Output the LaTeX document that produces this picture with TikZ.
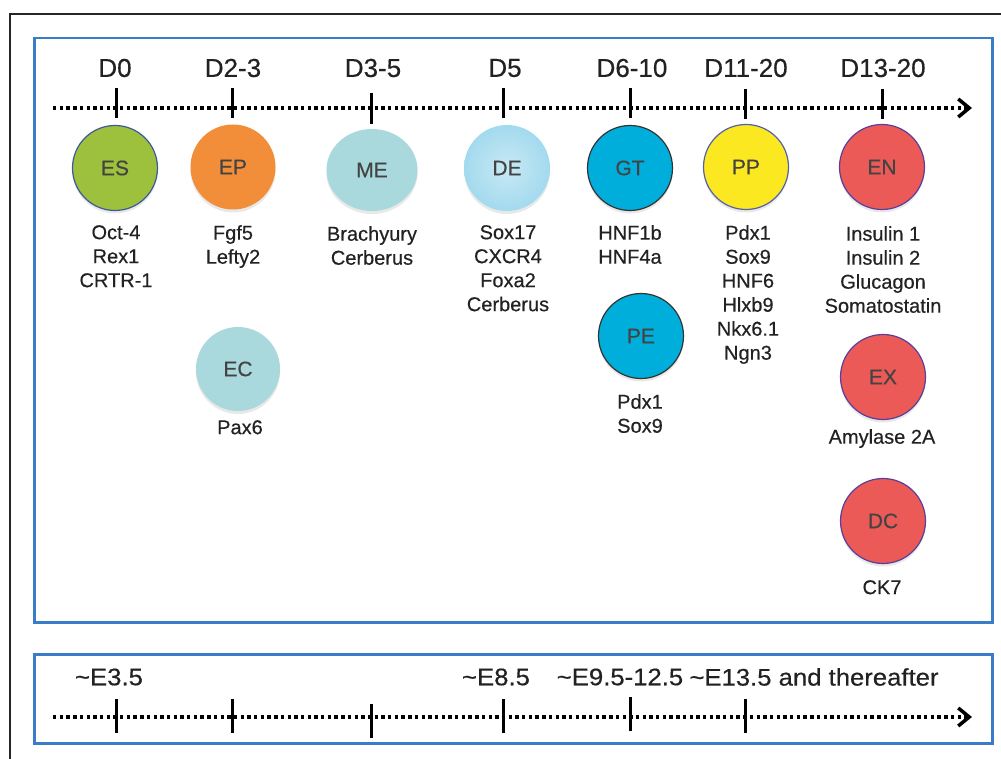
\documentclass[tikz,border=0pt]{standalone}
\usepackage{fontspec}
\setmainfont{Liberation Sans}[FakeBold=0.4]
\newfontfamily\heavyfont{Liberation Sans}[AutoFakeBold=0.5]
\usetikzlibrary{arrows.meta,shapes.geometric,shadows}
\definecolor{txt}{HTML}{222222}
\definecolor{boxblue}{HTML}{3A7CC8}
\definecolor{esgreen}{HTML}{9DC13C}
\definecolor{esborder}{HTML}{3D5A98}
\definecolor{eporange}{HTML}{F28E3A}
\definecolor{meteal}{HTML}{A9D9DD}
\definecolor{delblue}{HTML}{A3DAEE}
\definecolor{gtblue}{HTML}{00AEDC}
\definecolor{ppyellow}{HTML}{FBE820}
\definecolor{ppborder}{HTML}{5560A8}
\definecolor{enred}{HTML}{EC5A58}
\definecolor{enborder}{HTML}{5A3E9A}
\tikzset{
  panel/.style={draw=boxblue, line width=2.5pt},
  timeline/.style={line width=4pt, dash pattern=on 3.4pt off 3.3pt, -{Straight Barb[length=11pt,width=18pt,line width=3.5pt]}},
  tick/.style={line width=3pt},
  daylbl/.style={font=\fontsize{26}{30}\selectfont, text=txt, inner sep=0pt},
  elbl/.style={font=\fontsize{24}{28}\selectfont, text=txt, inner sep=0pt, xscale=1.07},
  cellshadow/.style={drop shadow={opacity=0.18, shadow xshift=0pt, shadow yshift=-3pt}},
  cell/.style={circle, minimum size=85pt, inner sep=0pt, font=\fontsize{21}{24}\selectfont, text=txt!85, cellshadow},
  markers/.style={font=\fontsize{20}{24}\selectfont, text=txt, align=center, inner sep=0pt, anchor=north},
}
\begin{document}
\begin{tikzpicture}[x=1pt,y=-1pt]
\useasboundingbox (0,0) rectangle (1001,759);
% outer frame
\draw[line width=2pt, black!85] (10,759) -- (10,14) -- (1001,14);
% panels
\node[panel, minimum width=958pt, minimum height=584pt, anchor=north west, inner sep=0pt] (top) at (33,37) {};
\node[panel, minimum width=958pt, minimum height=89pt, anchor=north west, inner sep=0pt] (bot) at (33,653) {};

% top timeline
\coordinate (t1s) at (53,108);
\coordinate (t1e) at (972,108);
\draw[timeline] (t1s) -- (t1e);
\draw[tick] (116,88) -- (116,118);
\draw[tick] (232,88) -- (232,118);
\draw[tick] (371,93) -- (371,124);
\draw[tick] (503,88) -- (503,118);
\draw[tick] (630,88) -- (630,118);
\draw[tick] (745,89) -- (745,119);
\draw[tick] (882,89) -- (882,119);

\node[daylbl] (d0) at (115,68) {D0};
\node[daylbl] (d23) at (233,68) {D2-3};
\node[daylbl] (d35) at (373,68) {D3-5};
\node[daylbl] (d5) at (505,68) {D5};
\node[daylbl] (d610) at (632,68) {D6-10};
\node[daylbl] (d1120) at (746,68) {D11-20};
\node[daylbl] (d1320) at (883,68) {D13-20};

% cells
\node[cell, fill=esgreen, draw=esborder, line width=1.2pt] (ES) at (115,168) {ES};
\node[cell, fill=eporange] (EP) at (233,167) {EP};
\node[ellipse, minimum width=91pt, minimum height=82pt, inner sep=0pt, fill=meteal, font=\fontsize{21}{24}\selectfont, text=txt!85, cellshadow] (ME) at (372,170) {ME};
\node[cell, inner color=delblue!60, outer color=delblue, minimum size=86pt] (DE) at (507,168) {DE};
\node[cell, fill=gtblue, draw=black!80, line width=1.2pt] (GT) at (630,168) {GT};
\node[cell, fill=ppyellow, draw=ppborder, line width=1.2pt] (PP) at (746,167) {PP};
\node[cell, fill=enred, draw=enborder, line width=1.2pt] (EN) at (882,167) {EN};
\node[cell, fill=meteal, minimum size=84pt] (EC) at (238,369) {EC};
\node[cell, fill=gtblue, draw=black!80, line width=1.2pt] (PE) at (641,336) {PE};
\node[cell, fill=enred, draw=enborder, line width=1.2pt] (EX) at (883,377) {EX};
\node[cell, fill=enred, draw=enborder, line width=1.2pt] (DC) at (883,521) {DC};

% markers
\node[markers] (mES) at (116,225) {Oct-4\\Rex1\\CRTR-1};
\node[markers] (mEP) at (233,225) {Fgf5\\Lefty2};
\node[markers] (mME) at (372,226) {Brachyury\\Cerberus};
\node[markers] (mDE) at (508,225) {Sox17\\CXCR4\\Foxa2\\Cerberus};
\node[markers] (mGT) at (630,225) {HNF1b\\HNF4a};
\node[markers] (mPP) at (748,225) {Pdx1\\Sox9\\HNF6\\Hlxb9\\Nkx6.1\\Ngn3};
\node[markers] (mEN) at (883,226) {Insulin 1\\Insulin 2\\Glucagon\\Somatostatin};
\node[markers] (mEC) at (240,420) {Pax6};
\node[markers] (mPE) at (640,394) {Pdx1\\Sox9};
\node[markers] (mEX) at (882,429) {Amylase 2A};
\node[markers] (mDC) at (882,580) {CK7};

% bottom timeline
\coordinate (t2s) at (53,717);
\coordinate (t2e) at (972,717);
\draw[timeline] (t2s) -- (t2e);
\draw[tick] (116,699) -- (116,733);
\draw[tick] (232,699) -- (232,733);
\draw[tick] (371,704) -- (371,738);
\draw[tick] (503,699) -- (503,733);
\draw[tick] (630,697) -- (630,731);
\draw[tick] (745,699) -- (745,733);

\node[elbl] (e35) at (109,677) {\textasciitilde E3.5};
\node[elbl] (e85) at (496,677) {\textasciitilde E8.5};
\node[elbl] (e95) at (620,677) {\textasciitilde E9.5-12.5};
\node[elbl] (e135) at (814,677) {\textasciitilde E13.5 and thereafter};
\end{tikzpicture}
\end{document}
